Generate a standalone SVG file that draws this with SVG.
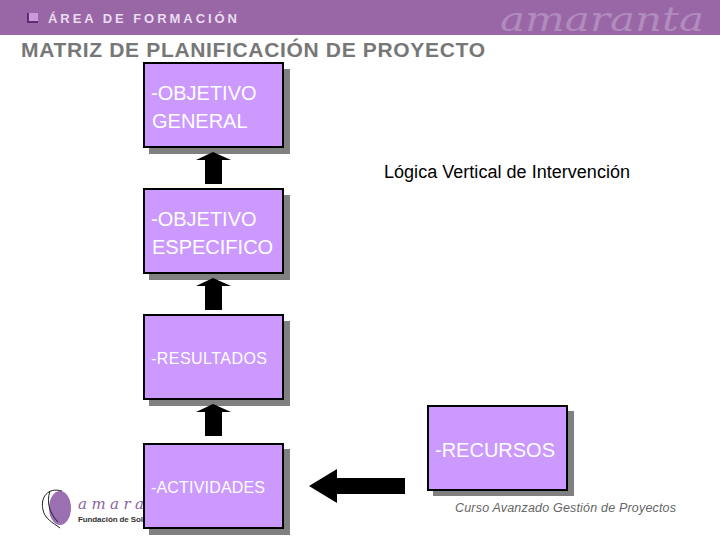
<svg xmlns="http://www.w3.org/2000/svg" width="720" height="540" viewBox="0 0 720 540">
<style>
text{font-family:"Liberation Sans",Arial,sans-serif}
.box{fill:#cc99ff;stroke:#000;stroke-width:2}
.sh{fill:#808080}
.t{fill:#fff;font-size:20px}
.s{fill:#fff;font-size:16px}
.arrow{fill:#000}
.logo{font-family:"DejaVu Serif",serif;font-style:italic}
</style>
<rect width="720" height="35" fill="#9966a6"/>
<g id="header">
<rect x="27" y="13" width="11" height="10" fill="#5f2a78"/>
<rect x="29" y="13" width="9" height="8" fill="#cc99dd"/>
<text x="48" y="23" font-size="13" font-weight="bold" fill="#eadcf0" textLength="189" lengthAdjust="spacing">ÁREA DE FORMACIÓN</text>
<text class="logo" x="500" y="31" font-size="34" fill="#b08bbd" textLength="204" lengthAdjust="spacingAndGlyphs">amaranta</text>
</g>
<text id="title" x="21" y="57" font-size="21" font-weight="bold" fill="#777" textLength="464" lengthAdjust="spacing">MATRIZ DE PLANIFICACIÓN DE PROYECTO</text>
<g id="logo-bottom">
<ellipse cx="60" cy="508" rx="11" ry="17" fill="#9a70b0"/>
<path d="M62 491C48 487 40 497 43 510C45 519 52 522 60 528M50 491C46 503 50 514 58 522" fill="none" stroke="#222" stroke-width="1"/>
<text class="logo" x="78" y="509" font-size="15" fill="#8a62a0" textLength="66" lengthAdjust="spacing">amara</text>
<text x="78" y="522" font-size="8" font-weight="bold" fill="#333" textLength="65" lengthAdjust="spacing">Fundación de Sol</text>
</g>
<g id="objetivo-general">
<rect class="sh" x="149" y="69" width="141" height="85"/>
<rect class="box" x="144" y="63" width="139" height="84"/>
<text class="t" x="151" y="100">-OBJETIVO</text>
<text class="t" x="152" y="128">GENERAL</text>
</g>
<g id="objetivo-especifico">
<rect class="sh" x="149" y="195" width="141" height="85"/>
<rect class="box" x="144" y="189" width="139" height="84"/>
<text class="t" x="151" y="226">-OBJETIVO</text>
<text class="t" x="152" y="254">ESPECIFICO</text>
</g>
<g id="resultados">
<rect class="sh" x="149" y="321" width="141" height="85"/>
<rect class="box" x="144" y="315" width="139" height="84"/>
<text class="s" x="151" y="364" textLength="116" lengthAdjust="spacing">-RESULTADOS</text>
</g>
<g id="actividades">
<rect class="sh" x="149" y="449" width="141" height="86"/>
<rect class="box" x="144" y="444" width="139" height="84"/>
<text class="s" x="151" y="493" textLength="114" lengthAdjust="spacing">-ACTIVIDADES</text>
</g>
<g id="recursos">
<rect class="sh" x="433" y="411" width="141" height="85"/>
<rect class="box" x="428" y="406" width="139" height="84"/>
<text class="t" x="435" y="457">-RECURSOS</text>
</g>
<g id="connectors">
<path class="arrow" d="M205 184V160H196L213 152L231 160H222V184Z"/>
<path class="arrow" d="M205 310V286H196L213 278L231 286H222V310Z"/>
<path class="arrow" d="M205 436V412H196L213 404L231 412H222V436Z"/>
<path class="arrow" d="M405 478H337V469L309 486L337 503V494H405Z"/>
</g>
<text id="logica" x="384" y="178" font-size="18" fill="#000" textLength="246" lengthAdjust="spacing">Lógica Vertical de Intervención</text>
<text id="curso" x="455" y="512" font-size="12.5" font-style="italic" fill="#666" textLength="221" lengthAdjust="spacing">Curso Avanzado Gestión de Proyectos</text>
</svg>
